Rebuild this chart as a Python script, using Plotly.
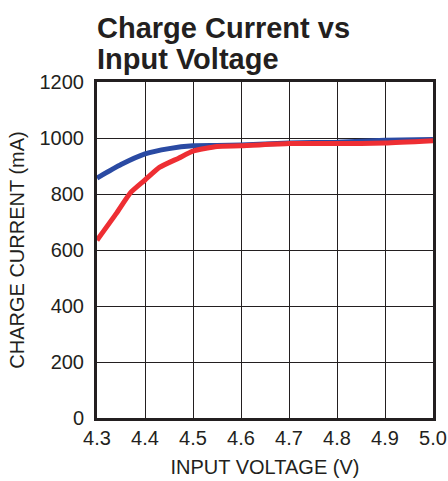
import plotly.graph_objects as go

blue_x = [4.30, 4.35, 4.40, 4.45, 4.50, 4.55, 4.60, 4.70, 4.80, 4.90, 5.00]
blue_y = [857, 905, 943, 962, 972, 973, 975, 982, 985, 992, 995]
red_x = [4.30, 4.34, 4.37, 4.40, 4.43, 4.47, 4.50, 4.55, 4.60, 4.70, 4.80, 4.90, 5.00]
red_y = [635, 730, 805, 850, 895, 928, 953, 970, 972, 980, 980, 982, 990]

x_ticks = [4.3, 4.4, 4.5, 4.6, 4.7, 4.8, 4.9, 5.0]
x_labels = ["4.3", "4.4", "4.5", "4.6", "4.7", "4.8", "4.9", "5.0"]
y_ticks = [0, 200, 400, 600, 800, 1000, 1200]
title_lines = ["Charge Current vs", "Input Voltage"]

font = "Liberation Sans, Arial, sans-serif"
ink = "#231f20"

fig = go.Figure()
fig.add_trace(go.Scatter(x=blue_x, y=blue_y, mode="lines",
                         line=dict(color="#2a4aa3", width=5, shape="spline",
                                   smoothing=0.5), showlegend=False))
fig.add_trace(go.Scatter(x=red_x, y=red_y, mode="lines",
                         line=dict(color="#ee2e33", width=5, shape="spline",
                                   smoothing=0.5), showlegend=False))

for line_text, shift in zip(title_lines, [36, 5]):
    fig.add_annotation(text="<b>" + line_text + "</b>",
                       xref="paper", yref="paper", x=0, y=1.0,
                       xanchor="left", yanchor="bottom", yshift=shift,
                       xshift=-2, showarrow=False, align="left",
                       font=dict(size=29, family=font, color=ink))

fig.update_layout(
    width=448, height=481,
    margin=dict(l=97, r=15, t=82, b=63),
    paper_bgcolor="white", plot_bgcolor="white",
    font=dict(family=font, color=ink, size=20),
    xaxis=dict(range=[4.3, 5.0], tickvals=x_ticks, ticktext=x_labels,
               showgrid=True, gridcolor=ink, gridwidth=1.3,
               showline=True, linecolor=ink, linewidth=3, mirror=True,
               ticks="", zeroline=False, automargin=False,
               title=dict(text="INPUT VOLTAGE (V)", standoff=12,
                          font=dict(size=20))),
    yaxis=dict(range=[0, 1200], tickvals=y_ticks,
               showgrid=True, gridcolor=ink, gridwidth=1.3,
               showline=True, linecolor=ink, linewidth=3, mirror=True,
               ticks="", zeroline=False, automargin=False,
               ticklabelstandoff=6,
               title=dict(text="CHARGE CURRENT (mA)", standoff=10,
                          font=dict(size=20))),
)

fig.write_html("out.html",
               config={"displayModeBar": False},
               post_script="document.body.style.margin='0';"
                           "document.body.style.overflow='hidden';")
